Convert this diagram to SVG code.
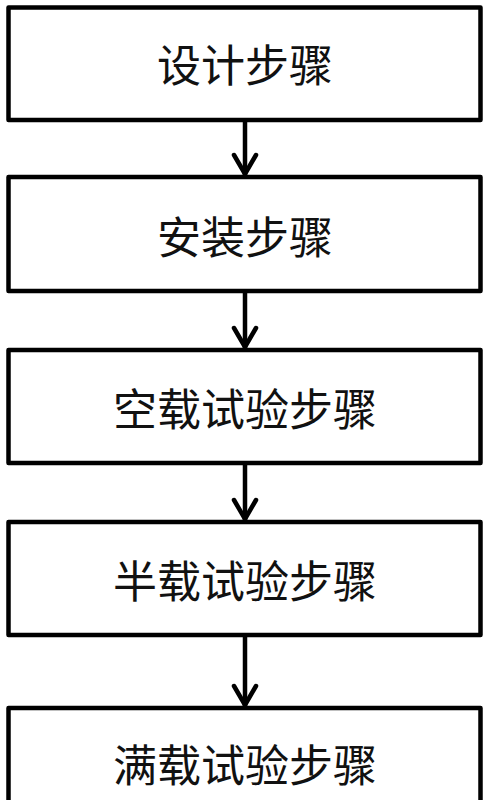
<svg xmlns="http://www.w3.org/2000/svg" width="487" height="800" viewBox="0 0 487 800">
<style>
.box{fill:#fff;stroke:#000;stroke-width:4.5;stroke-linejoin:round}
.lbl{font-family:"Noto Sans CJK SC","Noto Sans",sans-serif;font-size:44px;fill:#111;text-anchor:middle;dominant-baseline:central}
.con{stroke:#000;stroke-width:4.5;fill:none}
.head{stroke:#000;stroke-width:4.5;fill:none;stroke-linecap:round;stroke-linejoin:miter}
</style>
<rect width="487" height="800" fill="#fff"/>
<g id="n1"><rect class="box" x="8.5" y="7.5" width="472" height="112.5"/><text class="lbl" x="245" y="63">设计步骤</text></g>
<g id="n2"><rect class="box" x="8.5" y="177" width="472" height="114"/><text class="lbl" x="245" y="235">安装步骤</text></g>
<g id="n3"><rect class="box" x="8.5" y="350" width="472" height="113"/><text class="lbl" x="245" y="407">空载试验步骤</text></g>
<g id="n4"><rect class="box" x="8.5" y="522" width="472" height="113"/><text class="lbl" x="245" y="579">半载试验步骤</text></g>
<g id="n5"><rect class="box" x="8.5" y="708" width="472" height="140"/><text class="lbl" x="245" y="763">满载试验步骤</text></g>
<g id="connectors">
<line class="con" x1="245" y1="120" x2="245" y2="175"/><polyline class="head" points="234,155 245,174 256,155"/>
<line class="con" x1="245" y1="291" x2="245" y2="348"/><polyline class="head" points="234,328 245,347 256,328"/>
<line class="con" x1="245" y1="463" x2="245" y2="520"/><polyline class="head" points="234,500 245,519 256,500"/>
<line class="con" x1="245" y1="635" x2="245" y2="706"/><polyline class="head" points="234,686 245,705 256,686"/>
</g>
</svg>
